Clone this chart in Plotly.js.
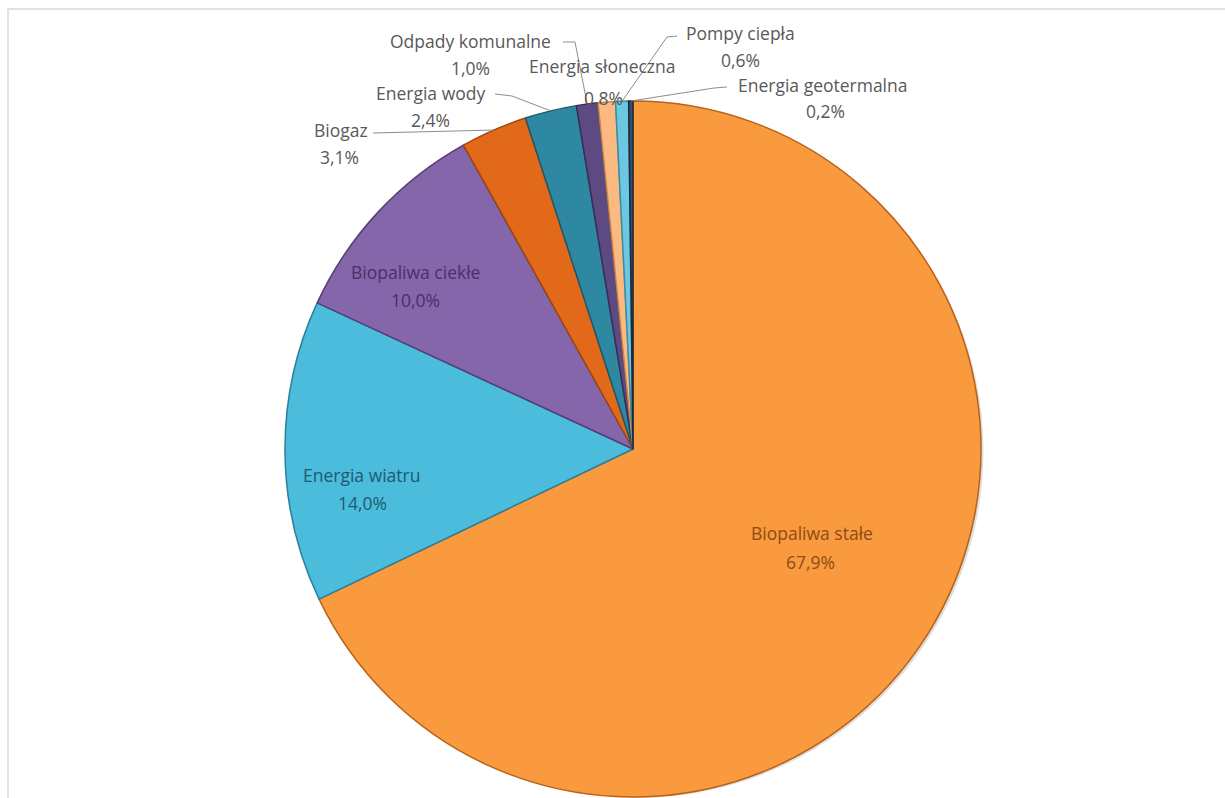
<!DOCTYPE html>
<html>
<head>
<meta charset="utf-8">
<script src="https://cdn.plot.ly/plotly-3.0.1.min.js"></script>
<style>html,body{margin:0;padding:0;background:#fff;}#chart{width:1225px;height:798px;}</style>
</head>
<body>
<div id="chart"></div>
<script>
// ---- data ----
const labels = ["Biopaliwa stałe", "Energia wiatru", "Biopaliwa ciekłe", "Biogaz", "Energia wody",
                "Odpady komunalne", "Energia słoneczna", "Pompy ciepła", "Energia geotermalna"];
const values = [67.9, 14.0, 10.0, 3.1, 2.4, 1.0, 0.8, 0.6, 0.2];

// ---- styles ----
const colors = ["#F99A3F", "#4CBCDD", "#8566AA", "#E2691A", "#2F88A1", "#5E4A82", "#FBBA82", "#6CC7E3", "#34506B"];
const edgeColors = ["#B8621A", "#2A7F99", "#553E75", "#9C4510", "#1C5A6B", "#3A2C55", "#C98745", "#3A8DA6", "#1A2A3C"];
const textColors = ["#8E4B14", "#1E5A70", "#48306A", "#595959", "#595959", "#595959", "#595959", "#595959", "#595959"];

const W = 1225, H = 798;
const cx = 633, cy = 449, R = 348;

// label placement (pixel centers: name line, value line)
const labelPos = [
  {nx: 812, ny: 533, vx: 811, vy: 562},
  {nx: 361, ny: 475, vx: 362, vy: 503},
  {nx: 415, ny: 272, vx: 415, vy: 300},
  {nx: 341, ny: 130, vx: 339, vy: 157},
  {nx: 430, ny: 93,  vx: 430, vy: 120},
  {nx: 470, ny: 41,  vx: 470, vy: 68},
  {nx: 602, ny: 66,  vx: 603, vy: 98},
  {nx: 740, ny: 33,  vx: 740, vy: 60},
  {nx: 823, ny: 85,  vx: 825, vy: 111}
];
// leader lines: label-side points (pixels), ending at slice edge
const leaders = {
  3: [[373, 133]],
  4: [[495, 94], [512, 96]],
  5: [[563, 42], [575, 42]],
  7: [[677, 36], [667, 37]],
  8: [[727, 87], [714, 88]]
};

const px = x => x / W;
const py = y => 1 - y / H;
const fmt = v => v.toFixed(1).replace('.', ',') + '%';

const total = values.reduce((a, b) => a + b, 0);
function edgePoint(i) {
  let before = 0;
  for (let k = 0; k < i; k++) before += values[k];
  const th = 2 * Math.PI * (before + values[i] / 2) / total;
  return [cx + R * Math.sin(th), cy - R * Math.cos(th)];
}

const domain = {
  x: [(cx - R) / W, (cx + R) / W],
  y: [(H - cy - R) / H, (H - cy + R) / H]
};
const shadowOff = 4;
const shadowDomain = {
  x: [(cx - R + shadowOff) / W, (cx + R + shadowOff) / W],
  y: [(H - cy - R - shadowOff) / H, (H - cy + R - shadowOff) / H]
};

const traces = [
  {
    type: 'pie', values: [1], labels: ['shadow'], domain: shadowDomain,
    marker: {colors: ['rgba(0,0,0,0.13)'], line: {width: 0}},
    textinfo: 'none', hoverinfo: 'skip', sort: false, showlegend: false
  },
  {
    type: 'pie', values: values, labels: labels, domain: domain,
    sort: false, direction: 'clockwise', rotation: 0,
    marker: {colors: colors, line: {color: edgeColors, width: 1.5}},
    textinfo: 'none', hoverinfo: 'label+percent', showlegend: false
  }
];

const annotations = [];
const font = "'Open Sans', Lato, sans-serif";
const fs = 17.5;
labels.forEach((lab, i) => {
  const p = labelPos[i];
  annotations.push({xref: 'paper', yref: 'paper', x: px(p.nx), y: py(p.ny), text: lab,
    showarrow: false, xanchor: 'center', yanchor: 'middle', borderpad: 0,
    font: {family: font, size: fs, color: textColors[i]}});
  annotations.push({xref: 'paper', yref: 'paper', x: px(p.vx), y: py(p.vy), text: fmt(values[i]),
    showarrow: false, xanchor: 'center', yanchor: 'middle', borderpad: 0,
    font: {family: font, size: fs, color: textColors[i]}});
});

const shapes = [
  {type: 'rect', xref: 'paper', yref: 'paper', x0: px(8), x1: px(1240), y0: py(9), y1: py(810),
   line: {color: '#D9D9D9', width: 1.5}, fillcolor: 'rgba(0,0,0,0)', layer: 'below'}
];
Object.keys(leaders).forEach(k => {
  const i = +k;
  const pts = leaders[k].concat([edgePoint(i)]);
  const d = pts.map((q, j) => (j ? 'L' : 'M') + px(q[0]).toFixed(5) + ',' + py(q[1]).toFixed(5)).join(' ');
  shapes.push({type: 'path', xref: 'paper', yref: 'paper', path: d,
    line: {color: '#8C8C8C', width: 1}, layer: 'above'});
});

const layout = {
  width: W, height: H,
  margin: {l: 0, r: 0, t: 0, b: 0},
  paper_bgcolor: '#FFFFFF',
  showlegend: false,
  annotations: annotations,
  shapes: shapes
};

Plotly.newPlot('chart', traces, layout, {displayModeBar: false, staticPlot: true});
</script>
</body>
</html>
